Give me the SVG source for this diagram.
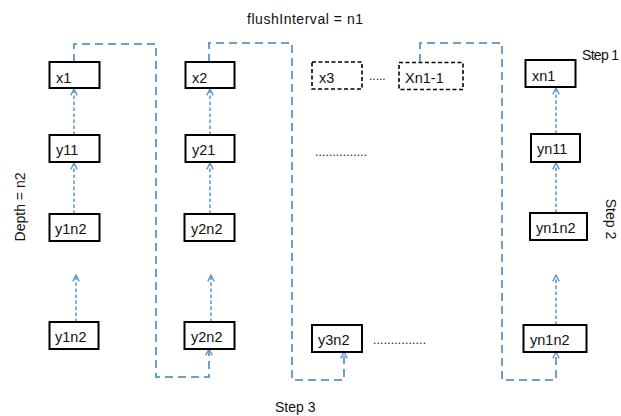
<svg xmlns="http://www.w3.org/2000/svg" width="621" height="416" viewBox="0 0 621 416">
  <style>
    text { font-family: "Liberation Sans", Arial, sans-serif; fill: #111; }
    .lbl { font-size: 14.5px; }
    .cap { font-size: 14px; }
    .box { fill: #fff; stroke: #000; stroke-width: 2; }
    .dbox { fill: #fff; stroke: #000; stroke-width: 1.6; stroke-dasharray: 4 2.5; }
    .up { fill: none; stroke: #5b9bd5; stroke-width: 1.6; stroke-dasharray: 3.5 2.5; }
    .loop { fill: none; stroke: #6a9fd2; stroke-width: 2; stroke-dasharray: 8 5; }
    .dots { font-size: 12px; }
  </style>
  <defs>
    <marker id="chev" viewBox="0 0 10 10" refX="9" refY="5" markerWidth="8" markerHeight="8" markerUnits="userSpaceOnUse" orient="auto">
      <path d="M1,1 L9,5 L1,9" fill="none" stroke="#5b9bd5" stroke-width="1.8"/>
    </marker>
  </defs>

  <!-- captions -->
  <text class="cap" x="247" y="24" textLength="116">flushInterval = n1</text>
  <text class="cap" x="582" y="60" textLength="37">Step 1</text>
  <text class="cap" transform="translate(25,207) rotate(-90)" text-anchor="middle">Depth = n2</text>
  <text class="cap" transform="translate(606,219) rotate(90)" text-anchor="middle">Step 2</text>
  <text class="cap" x="275" y="412">Step 3</text>
  <text class="dots" x="369" y="80">.....</text>
  <text class="dots" x="315" y="156" textLength="52">...............</text>
  <text class="dots" x="373" y="344" textLength="53">...............</text>

  <!-- connectors -->
  <g id="connectors">
    <path class="loop" d="M74,62 V44 H156 V377 H209 V349" marker-end="url(#chev)"/>
    <path class="loop" d="M209,62 V43 H292 V380 H344 V352" marker-end="url(#chev)"/>
    <path class="loop" d="M420,62 V43 H502 V380 H556 V352" marker-end="url(#chev)"/>
    <path class="up" d="M74,135 V89" marker-end="url(#chev)"/>
    <path class="up" d="M74,214 V163" marker-end="url(#chev)"/>
    <path class="up" d="M76,322 V275" marker-end="url(#chev)"/>
    <path class="up" d="M210,135 V89" marker-end="url(#chev)"/>
    <path class="up" d="M210,214 V163" marker-end="url(#chev)"/>
    <path class="up" d="M211,322 V275" marker-end="url(#chev)"/>
    <path class="up" d="M556,134 V88" marker-end="url(#chev)"/>
    <path class="up" d="M556,213 V163" marker-end="url(#chev)"/>
    <path class="up" d="M556,325 V275" marker-end="url(#chev)"/>
  </g>

  <!-- column 1 -->
  <g id="x1"><rect class="box" x="49.5" y="62" width="50" height="26"/><text class="lbl" x="56" y="83">x1</text></g>
  <g id="y11"><rect class="box" x="49.5" y="135" width="50" height="27"/><text class="lbl" x="56" y="155">y11</text></g>
  <g id="y1n2a"><rect class="box" x="49.5" y="214" width="50" height="27"/><text class="lbl" x="55" y="234">y1n2</text></g>
  <g id="y1n2b"><rect class="box" x="49.5" y="322" width="49" height="27"/><text class="lbl" x="55" y="342">y1n2</text></g>

  <!-- column 2 -->
  <g id="x2"><rect class="box" x="185.5" y="62" width="49" height="26"/><text class="lbl" x="192" y="83">x2</text></g>
  <g id="y21"><rect class="box" x="185.5" y="135" width="49" height="27"/><text class="lbl" x="192" y="155">y21</text></g>
  <g id="y2n2a"><rect class="box" x="184.5" y="214" width="50" height="27"/><text class="lbl" x="191" y="234">y2n2</text></g>
  <g id="y2n2b"><rect class="box" x="184.5" y="322" width="50" height="27"/><text class="lbl" x="191" y="342">y2n2</text></g>

  <!-- column 3 and placeholder column -->
  <g id="x3"><rect class="dbox" x="312" y="62" width="50" height="27"/><text class="lbl" x="319" y="83">x3</text></g>
  <g id="xn1-1"><rect class="dbox" x="399" y="62.5" width="64" height="27"/><text class="lbl" x="405" y="83">Xn1-1</text></g>
  <g id="y3n2"><rect class="box" x="312" y="325" width="50" height="27"/><text class="lbl" x="318" y="345">y3n2</text></g>

  <!-- last column -->
  <g id="xn1"><rect class="box" x="525.5" y="60" width="50" height="27"/><text class="lbl" x="532" y="81">xn1</text></g>
  <g id="yn11"><rect class="box" x="531" y="134" width="49" height="28"/><text class="lbl" x="537" y="154">yn11</text></g>
  <g id="yn1n2a"><rect class="box" x="530" y="213" width="57" height="27"/><text class="lbl" x="536" y="233">yn1n2</text></g>
  <g id="yn1n2b"><rect class="box" x="523.5" y="325" width="63" height="27"/><text class="lbl" x="530" y="345">yn1n2</text></g>
</svg>
